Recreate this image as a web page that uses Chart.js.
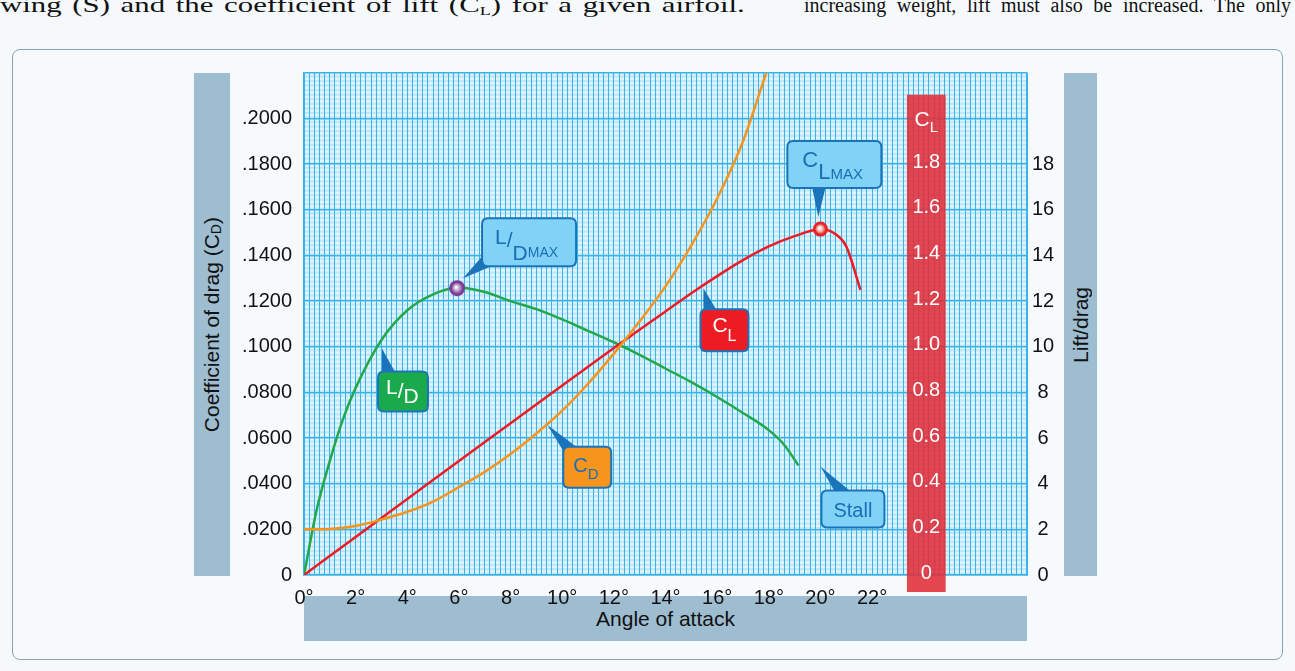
<!DOCTYPE html>
<html><head><meta charset="utf-8">
<script src="https://cdn.jsdelivr.net/npm/chart.js@4.4.1/dist/chart.umd.min.js"></script>
<style>
html,body{margin:0;padding:0}
body{width:1295px;height:671px;overflow:hidden;position:relative;background:#f6f9fc;font-family:"Liberation Sans",Arial,sans-serif}
.prose{position:absolute;top:-5px;height:22px;font-family:"Liberation Serif","Times New Roman",serif;font-size:20px;line-height:20px;color:#111;white-space:nowrap;text-align:justify;text-align-last:justify;transform-origin:0 0}
.prose sub{font-size:13px;vertical-align:-3px;line-height:0}
#panel{position:absolute;left:12px;top:49px;width:1271px;height:611px;box-sizing:border-box;border:1.5px solid #8aa2b2;border-radius:8px;background:#f6fafd}
.tbar{position:absolute;background:#9ebdd0;color:#111;font-size:21px;display:flex;align-items:center;justify-content:center}
.vt{writing-mode:vertical-rl;transform:rotate(180deg);white-space:nowrap}
.tbar sub{font-size:14px;vertical-align:-4px;line-height:0}
canvas{position:absolute;left:0;top:0}
</style></head>
<body>
<div class="prose" style="left:0;width:532px;font-size:22px;transform:scaleX(1.4)">wing (S) and the coefficient of lift (C<sub>L</sub>) for a given airfoil.</div>
<div class="prose" style="left:804px;width:487px">increasing weight, lift must also be increased. The only</div>
<div id="panel"></div>
<div class="tbar" style="left:194px;top:73px;width:36px;height:503px"><span class="vt">Coefficient of drag (C<sub>D</sub>)</span></div>
<div class="tbar" style="left:1064px;top:73px;width:33px;height:503px"><span class="vt">Lift/drag</span></div>
<div class="tbar" style="left:304px;top:596px;width:723px;height:45px">Angle of attack</div>
<canvas id="c" width="1295" height="671"></canvas>
<script>
// ---------- data ----------
const angleTicks = [0,2,4,6,8,10,12,14,16,18,20,22];
const cdTicks = [0,0.02,0.04,0.06,0.08,0.10,0.12,0.14,0.16,0.18,0.20];
const ldTicks = [0,2,4,6,8,10,12,14,16,18];
const clTicks = [0,0.2,0.4,0.6,0.8,1.0,1.2,1.4,1.6,1.8];

const cdAngles = [0,1,2,3,4,5,6,7,8,9,10,11,12,13,14,15,16,17,17.9];
const cdValues = [0.0200,0.0202,0.0215,0.0243,0.0277,0.0322,0.0385,0.0452,0.0530,0.0620,0.0720,0.0838,0.0970,0.1112,0.1265,0.1445,0.1650,0.1900,0.2200];

const clAngles = [0,2,4,6,8,10,12,14,15,16,17,18,19,20,20.5,21,21.55];
const clValues = [0,0.167,0.333,0.5,0.665,0.83,0.995,1.155,1.235,1.31,1.38,1.44,1.485,1.515,1.50,1.44,1.25];

const ldAngles = [0,0.5,1,1.5,2,3,4,5,6,7,8,9,10,11,12,13,14,15,16,17,18,18.6,19.15];
const ldValues = [0,2.9,5.0,6.8,8.2,10.3,11.6,12.3,12.6,12.4,12.0,11.65,11.2,10.7,10.2,9.65,9.05,8.45,7.8,7.1,6.35,5.7,4.8];

const ldMaxPoint = {x:5.93, y:12.57};
const clMaxPoint = {x:20.0, y:1.516};

const calloutTexts = {ldmax:['L','/','D','MAX'], clmax:['C','L','MAX'], ld:['L','/','D'], cl:['C','L'], cd:['C','D'], stall:['Stall']};
const calloutTips = {ldmax:[6.16,13.01], clmax:[19.92,1.569], ld:[3.02,9.93], cl:[15.47,1.257], cd:[9.42,0.0659], stall:[20.0,4.75]};

// ---------- styles ----------
const FONT = '"Liberation Sans", Arial, sans-serif';
const GRID = '#38b4eb';
const DARKBLUE = '#1b74ba';
const LIGHTBOX = '#80d3f7';
const TXTBLUE = '#1b6db5';

const calloutStyle = {
  ldmax:{axis:'yLD', box:[19,-60,94,48], base:[[21,-24],[33,-14]], fill:LIGHTBOX, color:TXTBLUE,
         runs:[[21,13,26],[21,null,29],[21,null,42],[14,null,39]]},
  clmax:{axis:'yCL', box:[-31,-76,94,47], base:[[-7,-33],[8,-33]], fill:LIGHTBOX, color:TXTBLUE,
         runs:[[22,15,26],[22,null,38],[15,null,38]]},
  ld:{axis:'yLD', box:[-4,23,50,40], base:[[0,27],[15,27]], fill:'#1aaa4b', color:'#ffffff',
         runs:[[21,8,23],[21,null,27],[21,null,32]]},
  cl:{axis:'yCL', box:[-3,21,48,42], base:[[0,25],[15,25]], fill:'#ed1c24', color:'#ffffff',
         runs:[[21,12,23],[16,null,32]]},
  cd:{axis:'yCD', box:[16,22,48,41], base:[[19,31],[33,25]], fill:'#f7941d', color:TXTBLUE,
         runs:[[20,10,25],[15,null,32]]},
  stall:{axis:'yLD', box:[1,24,63,37], base:[[16,28],[34,28]], fill:LIGHTBOX, color:TXTBLUE,
         runs:[[20,'center',26]]}
};

const pts = (xs, ys) => xs.map((x,i)=>({x, y:ys[i]}));
const near = (arr, v) => arr.find(t => Math.abs(t - v) < 1e-7);

function roundRect(ctx, x, y, w, h, r){
  ctx.beginPath();
  ctx.moveTo(x+r,y); ctx.lineTo(x+w-r,y); ctx.quadraticCurveTo(x+w,y,x+w,y+r);
  ctx.lineTo(x+w,y+h-r); ctx.quadraticCurveTo(x+w,y+h,x+w-r,y+h);
  ctx.lineTo(x+r,y+h); ctx.quadraticCurveTo(x,y+h,x,y+h-r);
  ctx.lineTo(x,y+r); ctx.quadraticCurveTo(x,y,x+r,y); ctx.closePath();
}

const paperPlugin = {
  id:'paper',
  beforeDraw(chart){
    const {ctx, chartArea:a, scales} = chart;
    ctx.save();
    ctx.fillStyle = '#bfe7f9';
    ctx.fillRect(a.left, a.top, a.right-a.left, a.bottom-a.top);
    ctx.fillStyle = 'rgba(255,255,255,0.55)';
    const s = scales.yLD;
    for (let k=0; k<110; k++){
      const v = k*0.2;
      const y0 = s.getPixelForValue(v+0.2), y1 = s.getPixelForValue(v+0.1);
      ctx.fillRect(a.left, y0, a.right-a.left, y1-y0);
    }
    ctx.restore();
  }
};

const clBarPlugin = {
  id:'clbar',
  beforeDatasetsDraw(chart){
    const {ctx, scales} = chart;
    const x0 = scales.x.getPixelForValue(23.35), x1 = scales.x.getPixelForValue(24.85);
    const top = scales.yCL.getPixelForValue(2.105), bottom = scales.yCL.getPixelForValue(0) + 17;
    ctx.save();
    ctx.fillStyle = 'rgba(226,44,54,0.87)';
    ctx.fillRect(x0, top, x1-x0, bottom-top);
    const cx = (x0+x1)/2;
    ctx.fillStyle = '#ffffff';
    ctx.textAlign = 'center'; ctx.textBaseline = 'middle';
    ctx.font = '20px ' + FONT;
    clTicks.forEach(v => {
      ctx.fillText(v === 0 ? '0' : v.toFixed(1), cx, scales.yCL.getPixelForValue(v) - 2);
    });
    const y = scales.yCL.getPixelForValue(2.0);
    ctx.textAlign = 'left'; ctx.textBaseline = 'alphabetic';
    ctx.font = '21px ' + FONT; const wC = ctx.measureText('C').width;
    ctx.font = '15px ' + FONT; const wL = ctx.measureText('L').width;
    const sx = cx - (wC+wL)/2;
    ctx.font = '21px ' + FONT; ctx.fillText('C', sx, y + 7);
    ctx.font = '15px ' + FONT; ctx.fillText('L', sx + wC, y + 13);
    ctx.restore();
  }
};

function drawBall(ctx, x, y, r, outer, inner){
  ctx.save();
  ctx.beginPath(); ctx.arc(x, y, r, 0, Math.PI*2);
  ctx.fillStyle = outer; ctx.fill();
  const g = ctx.createRadialGradient(x-1, y-1, 0.5, x, y, r-2.2);
  g.addColorStop(0, '#ffffff'); g.addColorStop(0.5, inner); g.addColorStop(1, outer);
  ctx.beginPath(); ctx.arc(x, y, r-2.2, 0, Math.PI*2);
  ctx.fillStyle = g; ctx.fill();
  ctx.restore();
}

const calloutPlugin = {
  id:'callouts',
  afterDatasetsDraw(chart){
    const {ctx, scales} = chart;
    const mLD = chart.getDatasetMeta(3).data[0];
    const mCL = chart.getDatasetMeta(4).data[0];
    drawBall(ctx, mLD.x, mLD.y, 8, '#7d3c98', '#b9a0c6');
    drawBall(ctx, mCL.x, mCL.y, 7.5, '#e6232a', '#f3b6a6');
    Object.keys(calloutStyle).forEach(key => {
      const st = calloutStyle[key];
      const tip = calloutTips[key];
      const tx = scales.x.getPixelForValue(tip[0]);
      const ty = scales[st.axis].getPixelForValue(tip[1]);
      ctx.save();
      ctx.fillStyle = DARKBLUE;
      ctx.beginPath();
      ctx.moveTo(tx, ty);
      ctx.lineTo(tx+st.base[0][0], ty+st.base[0][1]);
      ctx.lineTo(tx+st.base[1][0], ty+st.base[1][1]);
      ctx.closePath(); ctx.fill();
      const bx = tx+st.box[0], by = ty+st.box[1], bw = st.box[2], bh = st.box[3];
      roundRect(ctx, bx, by, bw, bh, 6);
      ctx.fillStyle = st.fill; ctx.fill();
      ctx.lineWidth = 2; ctx.strokeStyle = DARKBLUE; ctx.stroke();
      ctx.fillStyle = st.color; ctx.textBaseline = 'alphabetic'; ctx.textAlign = 'left';
      const texts = calloutTexts[key];
      let cur = bx;
      texts.forEach((t, i) => {
        const [size, dx, base] = st.runs[i];
        ctx.font = size + 'px ' + FONT;
        const w = ctx.measureText(t).width;
        if (dx === 'center') cur = bx + (bw - w)/2;
        else if (dx !== null) cur = bx + dx;
        ctx.fillText(t, cur, by + base);
        cur += w;
      });
      ctx.restore();
    });
  }
};

new Chart(document.getElementById('c').getContext('2d'), {
  type:'line',
  data:{
    datasets:[
      {label:'CD', data:pts(cdAngles, cdValues), yAxisID:'yCD', borderColor:'#f7941d', borderWidth:2.5, pointRadius:0, cubicInterpolationMode:'monotone', fill:false},
      {label:'CL', data:pts(clAngles, clValues), yAxisID:'yCL', borderColor:'#ed1c24', borderWidth:2.5, pointRadius:0, cubicInterpolationMode:'monotone', fill:false},
      {label:'L/D', data:pts(ldAngles, ldValues), yAxisID:'yLD', borderColor:'#22a84a', borderWidth:2.5, pointRadius:0, cubicInterpolationMode:'monotone', fill:false},
      {label:'L/D max', data:[ldMaxPoint], yAxisID:'yLD', pointRadius:0, showLine:false},
      {label:'CL max', data:[clMaxPoint], yAxisID:'yCL', pointRadius:0, showLine:false}
    ]
  },
  options:{
    responsive:false, animation:false, devicePixelRatio:1,
    layout:{padding:{left:204, right:208, top:73, bottom:66}},
    plugins:{legend:{display:false}, tooltip:{enabled:false}, title:{display:false}},
    scales:{
      x:{type:'linear', min:0, max:28, position:'bottom',
         afterFit:s=>{s.height=30;},
         ticks:{stepSize:0.2, autoSkip:false, maxRotation:0, padding:11, color:'#111', font:{size:20, family:FONT},
           callback:v=>{const t=near(angleTicks,v); return t===undefined?'':t+'°';}},
         grid:{color:GRID, lineWidth:1, drawTicks:false},
         border:{color:GRID, width:1.5}},
      yCD:{type:'linear', min:0, max:0.22, position:'left',
         afterFit:s=>{s.width=100;},
         ticks:{stepSize:0.02, padding:12, color:'#111', font:{size:20, family:FONT},
           callback:v=>{const t=near(cdTicks,v); if(t===undefined) return ''; return t===0?'0':'.'+t.toFixed(4).slice(2);}},
         grid:{color:GRID, lineWidth:1.6, drawTicks:false},
         border:{color:GRID, width:1.5}},
      yLD:{type:'linear', min:0, max:22, position:'right',
         afterFit:s=>{s.width=60;},
         ticks:{stepSize:2, padding:5, crossAlign:'center', color:'#111', font:{size:20, family:FONT},
           callback:v=>{const t=near(ldTicks,v); return t===undefined?'':String(t);}},
         grid:{display:false, drawTicks:false},
         border:{color:GRID, width:1.5}},
      yCL:{type:'linear', min:0, max:2.2, display:false}
    }
  },
  plugins:[paperPlugin, clBarPlugin, calloutPlugin]
});
</script>
</body></html>
